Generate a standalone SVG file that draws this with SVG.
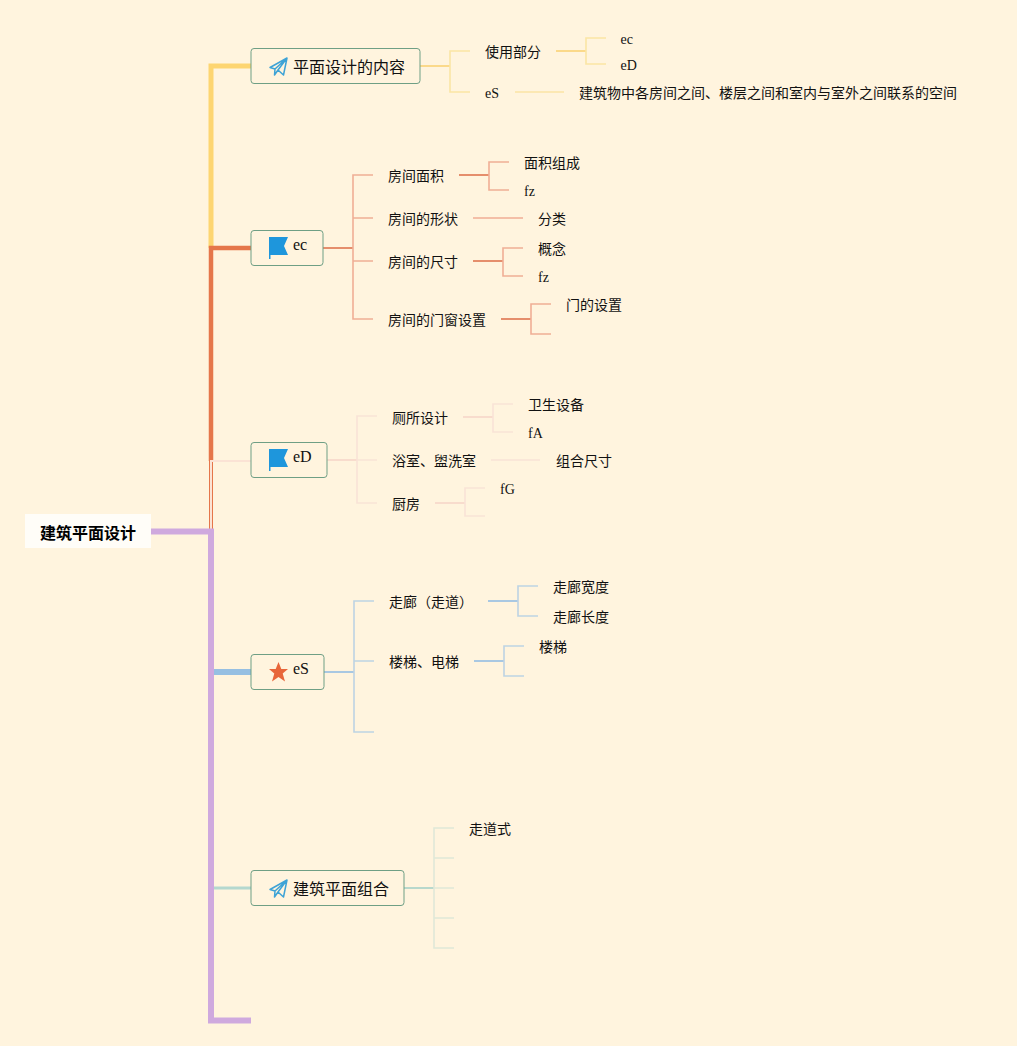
<svg xmlns="http://www.w3.org/2000/svg" width="1017" height="1046" viewBox="0 0 1017 1046">
<style>
text{font-family:"Liberation Serif","Noto Sans CJK SC",serif;fill:#111;font-size:14px}
.b{font-size:16px}
.m{font-size:16px}
.r{font-size:16px;font-weight:bold;fill:#000}
.n{fill:#fff4de;stroke:#6f9f85;stroke-width:1}
path{fill:none;stroke-linejoin:miter}
.y{stroke:#fbe5a4;stroke-width:1.6}.ys{stroke:#fbd98a;stroke-width:2}
.o{stroke:#f0ae95;stroke-width:1.6}.os{stroke:#e58e6c;stroke-width:2}
.p{stroke:#f9e3d6;stroke-width:1.6}.ps{stroke:#f8dccd;stroke-width:2}
.l{stroke:#bdd3e3;stroke-width:1.6}.ls{stroke:#a9c8e2;stroke-width:2}
.g{stroke:#e0e8d8;stroke-width:1.6}.gs{stroke:#b8d8cc;stroke-width:2}
.flag{fill:#1e96dc;stroke:none}.star{fill:#e8663a;stroke:none}.plane{fill:none;stroke:#3ea3d6;stroke-width:1.5;stroke-linejoin:round}
</style>
<defs>
<g id="flag"><path class="flag" d="M0 0H19L15 9L19 18H1.500V22H0Z"/></g>
<g id="plane"><path class="plane" d="M0 9.500L17 0L13.500 17L8 12L4.500 17L5 11ZM5 11L17 0L8 12"/></g>
</defs>
<rect width="1017" height="1046" fill="#fff4de"/>
<g id="connectors">
<path d="M251 66H211V248" stroke="#fdd571" stroke-width="5"/>
<path d="M251 248H211V461" stroke="#e5764a" stroke-width="4.500"/>
<path d="M211 531V461" stroke="#e5764a" stroke-width="4"/>
<path d="M211 531V461H251" stroke="#fbe3d5" stroke-width="2"/>
<path d="M151 531.500H211V1020.500H251" stroke="#cfa9de" stroke-width="6"/>
<path d="M214 672H251" stroke="#96bfe2" stroke-width="6"/>
<path d="M214 888H251" stroke="#b4d8cf" stroke-width="3"/>
<path class="ys" d="M420 66H450"/><path class="y" d="M470 51H450V92H470"/>
<path class="ys" d="M556 51H586"/><path class="y" d="M606 38H586V64H606"/>
<path class="y" d="M515 92H564"/>
<path class="os" d="M323 248H353"/><path class="o" d="M373 175H353V319H373M353 218H373M353 261H373"/>
<path class="os" d="M459 175H489"/><path class="o" d="M509 162H489V190H509"/>
<path class="o" d="M473 218H523"/>
<path class="os" d="M473 261H503"/><path class="o" d="M523 248H503V276H523"/>
<path class="os" d="M501 319H531"/><path class="o" d="M551 304H531V334H551"/>
<path class="ps" d="M327 460H357"/><path class="p" d="M377 416H357V503H377M357 460H377"/>
<path class="ps" d="M463 417H493"/><path class="p" d="M513 404H493V432H513"/>
<path class="p" d="M491 460H540"/>
<path class="ps" d="M435 503H465"/><path class="p" d="M485 488H465V516H485"/>
<path class="ls" d="M324 672H354"/><path class="l" d="M374 601H354V732H374M354 661H374"/>
<path class="ls" d="M488 601H518"/><path class="l" d="M538 586H518V616H538"/>
<path class="ls" d="M474 661H504"/><path class="l" d="M524 646H504V676H524"/>
<path class="gs" d="M404 888H434"/><path class="g" d="M454 828H434V948H454M434 858H454M434 888H454M434 918H454"/>
</g>
<g id="root"><rect x="25" y="514" width="126" height="34" fill="#fffdf8"/><text class="r" x="88" y="539" text-anchor="middle">建筑平面设计</text></g>
<g id="n1"><rect class="n" x="251" y="48.500" width="169" height="35" rx="3"/><use href="#plane" x="270" y="58"/><text class="b" x="293" y="73">平面设计的内容</text></g>
<g id="n2"><rect class="n" x="251" y="230.500" width="72" height="35" rx="3"/><use href="#flag" x="269" y="237"/><text class="m" x="293" y="250">ec</text></g>
<g id="n3"><rect class="n" x="251" y="442.500" width="76" height="35" rx="3"/><use href="#flag" x="269" y="449"/><text class="m" x="293" y="462">eD</text></g>
<g id="n4"><rect class="n" x="251" y="654.500" width="73" height="35" rx="3"/><path class="star" d="M278.500 662L281.300 669H288L282.700 673.500L285 681.500L278.500 677L272 681.500L274.300 673.500L269 669H275.700Z"/><text class="m" x="293" y="674">eS</text></g>
<g id="n5"><rect class="n" x="251" y="870.500" width="153" height="35" rx="3"/><use href="#plane" x="270" y="880"/><text class="b" x="293" y="895">建筑平面组合</text></g>
<g id="labels">
<text x="485" y="57">使用部分</text><text x="620.500" y="44">ec</text><text x="620.500" y="70">eD</text><text x="485" y="98">eS</text><text x="579" y="98">建筑物中各房间之间、楼层之间和室内与室外之间联系的空间</text>
<text x="388" y="181">房间面积</text><text x="524" y="168">面积组成</text><text x="524" y="196">fz</text>
<text x="388" y="224">房间的形状</text><text x="538" y="224">分类</text>
<text x="388" y="267">房间的尺寸</text><text x="538" y="254">概念</text><text x="538" y="282">fz</text>
<text x="388" y="325">房间的门窗设置</text><text x="566" y="310">门的设置</text>
<text x="392" y="423">厕所设计</text><text x="528" y="410">卫生设备</text><text x="528" y="438">fA</text>
<text x="392" y="466">浴室、盥洗室</text><text x="556" y="466">组合尺寸</text>
<text x="392" y="509">厨房</text><text x="500" y="494">fG</text>
<text x="389" y="607">走廊（走道）</text><text x="553" y="592">走廊宽度</text><text x="553" y="622">走廊长度</text>
<text x="389" y="667">楼梯、电梯</text><text x="539" y="652">楼梯</text>
<text x="469" y="834">走道式</text>
</g>
</svg>
